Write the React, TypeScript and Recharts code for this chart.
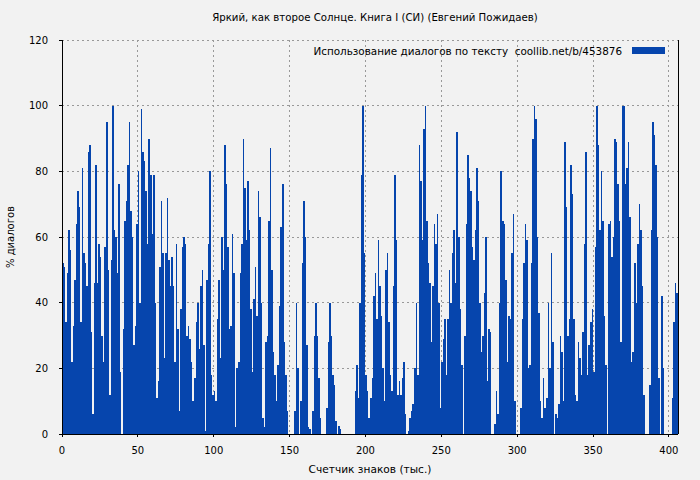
import React from 'react';
import {
  BarChart,
  Bar,
  XAxis,
  YAxis,
  CartesianGrid,
  Legend,
  ReferenceLine,
} from 'recharts';

const FONT = '"DejaVu Sans", Verdana, sans-serif';
const BAR_COLOR = '#0645ad';

const chartTitle = 'Яркий, как второе Солнце. Книга I (СИ) (Евгений Пожидаев)';
const legendLabel = 'Использование диалогов по тексту  coollib.net/b/453876';
const xAxisTitle = 'Счетчик знаков (тыс.)';
const yAxisTitle = '% диалогов';

const xTicks = [0, 50, 100, 150, 200, 250, 300, 350, 400];
const yTicks = [0, 20, 40, 60, 80, 100, 120];
const xEnd = 406;

// % of dialogue per thousand characters
const share000 = [
  52, 51, 34, 49, 62, 56, 22, 33, 47, 64,
  74, 69, 34, 81, 55, 52, 45, 86, 88, 31,
  6, 46, 82, 46, 58, 54, 30, 22, 57, 95,
  50, 12, 53, 100, 62, 60, 49, 76, 19, 0,
  32, 65, 71, 82, 95, 68, 60, 27, 33, 64,
  80, 40, 99, 86, 83, 74, 58, 90, 79, 61,
  79, 40, 11, 16, 51, 71, 55, 23, 55, 72,
  53, 45, 54, 45, 22, 58, 32, 7, 38, 57,
  60, 58, 30, 33, 29, 22, 10, 17, 34, 40,
  26, 45, 50, 27, 1, 47, 58, 80, 18, 12,
];
const share100 = [
  13, 10, 35, 47, 23, 60, 50, 88, 76, 57,
  32, 33, 61, 49, 2, 20, 22, 49, 58, 90,
  75, 59, 77, 62, 38, 19, 41, 51, 36, 74,
  66, 40, 5, 2, 28, 30, 65, 87, 50, 25,
  18, 10, 21, 39, 63, 76, 28, 18, 7, 0,
  0, 0, 0, 7, 40, 20, 0, 10, 52, 71,
  60, 27, 2, 1.5, 0, 7, 30, 40, 30, 17,
  5, 0, 0, 0, 8, 28, 40, 30, 18, 15,
  4, 0, 2.5, 1.6, 0, 0, 0, 0, 0, 0,
  0, 0, 0, 13, 21, 11, 40, 79, 100, 55,
];
const share200 = [
  18, 13, 5, 11, 17, 42, 49, 35, 59, 45,
  36, 20, 10, 50, 55, 34, 18, 13, 45, 79,
  59, 12, 16, 12, 17, 22, 6, 0, 1, 5,
  7, 9, 20, 40, 18, 88, 77, 59, 93, 100,
  65, 52, 46, 28, 45, 64, 58, 67, 40, 8,
  22, 29, 35, 18, 35, 50, 40, 55, 62, 46,
  92, 60, 38, 21, 0, 30, 64, 85, 78, 74,
  57, 53, 62, 81, 71, 40, 25, 30, 43, 60,
  16, 32, 31, 0, 0, 3, 13, 6, 40, 80,
  65, 64, 47, 22, 36, 35, 55, 67, 10, 0,
];
const share300 = [
  0, 0, 8, 35, 52, 64, 59, 20, 21, 52,
  90, 100, 96, 60, 37, 10, 5, 17, 8, 11,
  40, 20, 55, 28, 0, 6, 5, 9, 30, 25,
  10, 89, 69, 30, 35, 82, 73, 35, 12, 10,
  28, 23, 18, 31, 58, 86, 18, 27, 34, 38,
  19, 57, 100, 88, 62, 80, 65, 36, 21, 0,
  64, 65, 54, 60, 90, 89, 76, 65, 28, 100,
  100, 76, 81, 89, 66, 22, 25, 52, 40, 58,
  70, 62, 45, 12, 0, 0, 0, 15, 62, 95,
  91, 82, 60, 17, 0, 42, 20, 0, 0, 0,
  0, 0, 11, 34, 46, 43,
];

const data = [...share000, ...share100, ...share200, ...share300].map((v, i) => ({
  k: i,
  dialogs: v,
}));

const WIDTH = 700;
const HEIGHT = 480;
const MARGIN = { top: 40, right: 22, bottom: 0, left: 0 };
const Y_AXIS_W = 62;
const X_AXIS_H = 46;
const barWidth = (WIDTH - MARGIN.right - Y_AXIS_W) / data.length - 0.005;

const tickStyle = { fill: '#000', fontSize: 10, fontFamily: FONT };

function XTitle(props: any) {
  const vb = props.viewBox ?? { x: 62, y: 434, width: 616, height: 46 };
  return (
    <text
      x={vb.x + vb.width / 2}
      y={vb.y + 39}
      textAnchor="middle"
      fontSize={10.6}
      fontFamily={FONT}
      fill="#000"
    >
      {xAxisTitle}
    </text>
  );
}

function YTitle(props: any) {
  const vb = props.viewBox ?? { x: 0, y: 40, width: 62, height: 394 };
  const cx = vb.x + 10;
  const cy = vb.y + vb.height / 2;
  return (
    <text
      x={cx}
      y={cy}
      transform={`rotate(-90 ${cx} ${cy})`}
      textAnchor="middle"
      dominantBaseline="central"
      fontSize={10}
      fontFamily={FONT}
      fill="#000"
    >
      {yAxisTitle}
    </text>
  );
}

function LegendBox() {
  return (
    <div
      style={{
        display: 'flex',
        justifyContent: 'flex-end',
        alignItems: 'center',
        paddingRight: 35,
        height: 15,
        fontSize: 10.4,
        fontFamily: FONT,
        color: '#000',
      }}
    >
      <span style={{ whiteSpace: 'pre' }}>{legendLabel}</span>
      <span
        style={{
          display: 'inline-block',
          width: 33,
          height: 7,
          marginLeft: 10,
          background: BAR_COLOR,
        }}
      />
    </div>
  );
}

export default function App() {
  return (
    <div
      style={{
        position: 'relative',
        width: WIDTH,
        height: HEIGHT,
        background: '#f2f2f2',
        fontFamily: FONT,
      }}
    >
      <style>{`
        body { margin: 0; background: #f2f2f2; }
        .recharts-bar-rectangle path, .recharts-cartesian-axis-line,
        .recharts-cartesian-axis-tick-line, .recharts-reference-line line,
        .recharts-cartesian-grid line { shape-rendering: crispEdges; }
      `}</style>
      <div
        style={{
          position: 'absolute',
          top: 11,
          left: 375,
          transform: 'translateX(-50%)',
          whiteSpace: 'nowrap',
          fontSize: 10.2,
          lineHeight: '14px',
          color: '#000',
        }}
      >
        {chartTitle}
      </div>
      <BarChart
        width={WIDTH}
        height={HEIGHT}
        data={data}
        margin={MARGIN}
        barCategoryGap={0}
        barGap={0}
      >
        <CartesianGrid
          xAxisId="num"
          stroke="#999"
          strokeDasharray="2 3"
          horizontalValues={yTicks}
          verticalValues={xTicks}
        />
        <XAxis xAxisId="cat" dataKey="k" type="category" hide height={0} />
        <XAxis
          xAxisId="num"
          dataKey="k"
          type="number"
          domain={[0, xEnd]}
          ticks={xTicks}
          allowDataOverflow
          interval={0}
          height={X_AXIS_H}
          tickSize={3}
          tickMargin={10}
          tick={tickStyle}
          axisLine={{ stroke: '#000' }}
          tickLine={{ stroke: '#000' }}
          label={<XTitle />}
        />
        <YAxis
          domain={[0, 120]}
          ticks={yTicks}
          interval={0}
          width={Y_AXIS_W}
          tickSize={3}
          tickMargin={11}
          tick={tickStyle}
          axisLine={{ stroke: '#000' }}
          tickLine={{ stroke: '#000' }}
          label={<YTitle />}
        />
        <ReferenceLine xAxisId="num" x={xEnd} stroke="#000" />
        <Legend
          layout="horizontal"
          verticalAlign="middle"
          align="center"
          wrapperStyle={{ top: 43, left: 0, width: WIDTH, height: 15 }}
          content={<LegendBox />}
        />
        <Bar
          xAxisId="cat"
          dataKey="dialogs"
          fill={BAR_COLOR}
          barSize={barWidth}
          isAnimationActive={false}
        />
      </BarChart>
    </div>
  );
}
